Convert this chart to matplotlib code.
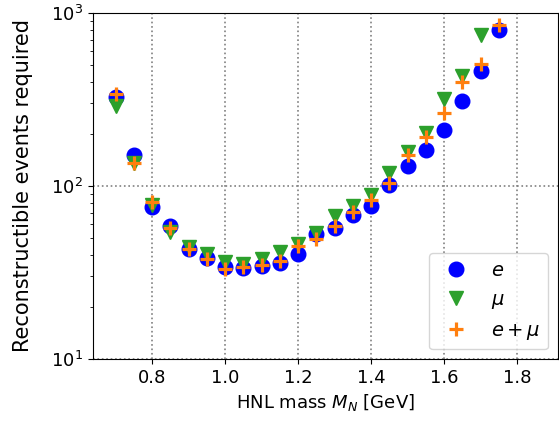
import numpy as np
import matplotlib
matplotlib.use("Agg")
import matplotlib.pyplot as plt

# HNL masses scanned [GeV]
masses = [0.70, 0.75, 0.80, 0.85, 0.90, 0.95, 1.00, 1.05, 1.10, 1.15, 1.20,
          1.25, 1.30, 1.35, 1.40, 1.45, 1.50, 1.55, 1.60, 1.65, 1.70, 1.75]

# reconstructible events required per channel
events_e = [327, 151, 76, 59, 43, 38.4, 34, 33.4, 34.4, 36, 40.6,
            52.6, 57, 68, 76.4, 101, 131, 161, 210, 310, 462, 794]
events_mu = [288, 136, 78, 54, 44.4, 40.5, 36.3, 35.4, 38, 41.8, 46.4,
             53.8, 66.8, 76.4, 89, 119, 158, 202, 316, 431, 743, np.nan]
events_emu = [339, 136, 81, 57, 43.5, 38, 33.2, 34, 34.8, 36.8, 44.8,
              49.7, 58.8, 70.8, 83.4, 104, 150, 192, 262, 399, 509, 849]

plt.rcParams['font.size'] = 13

fig = plt.figure(figsize=(5.59, 4.25), dpi=100)
ax = fig.add_axes([0.166, 0.155, 0.832, 0.815])

ax.plot(masses, events_e, 'o', color='blue', markersize=10.5, label='$e$')
ax.plot(masses, events_mu, 'v', color='tab:green', markersize=10.5, label=r'$\mu$')
ax.plot(masses, events_emu, '+', color='tab:orange', markersize=10,
        markeredgewidth=2.3, label=r'$e+\mu$')

ax.set_yscale('log')
ax.set_ylim(10, 1000)
ax.set_xlim(0.637, 1.912)
ax.set_xticks([0.8, 1.0, 1.2, 1.4, 1.6, 1.8])

ax.grid(True, which='major', linestyle=':', color='gray', linewidth=1.2)

ax.set_xlabel('HNL mass $M_N$ [GeV]')
ax.set_ylabel('Reconstructible events required', fontsize=15)
ax.yaxis.set_label_coords(-0.128, 0.5)

ax.legend(loc='lower right', numpoints=1, fontsize=14)

fig.savefig('out.png', dpi=100)
